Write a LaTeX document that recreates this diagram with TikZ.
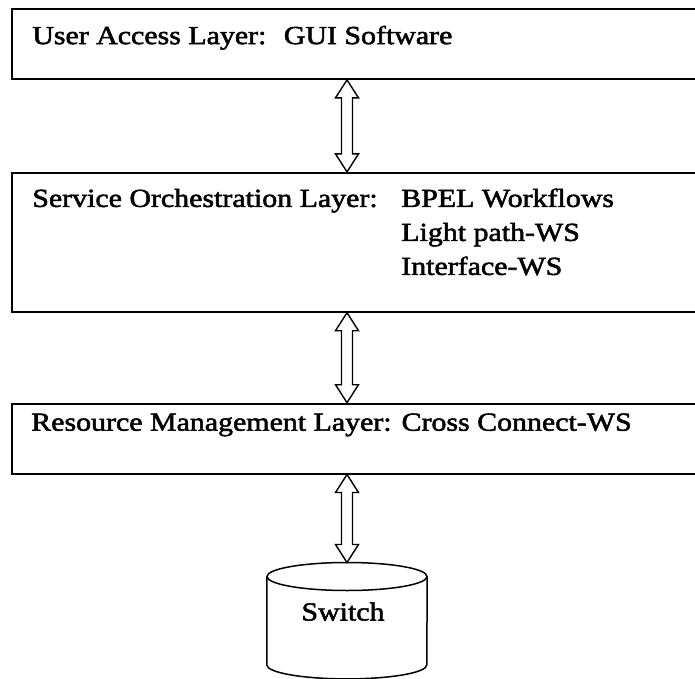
\documentclass[tikz,border=0pt]{standalone}
\usepackage{fontspec}
\setmainfont{Liberation Serif}[FakeStretch=1.15,FakeBold=2]
\usetikzlibrary{positioning,calc}

\tikzset{
  layer/.style={draw, line width=1.8pt, minimum width=688pt, inner sep=0pt},
  lbl/.style={inner sep=0pt, font=\fontsize{26}{34}\selectfont},
  store/.style={inner sep=0pt, minimum width=160pt, minimum height=116pt},
  storeline/.style={line width=1.5pt},
  duplex/.style={draw, line width=1.4pt, fill=white}
}

% hollow two-way arrow, #1 upper end, #2 lower end
\newcommand{\updown}[2]{%
  \draw[duplex] let \p1=(#1), \p2=(#2) in
    (\p1) -- ++(11.5pt,-18pt) -- ++(-6pt,0pt) -- (\x1+5.5pt,\y2+18pt)
    -- ++(6pt,0pt) -- (\p2) -- ++(-11.5pt,18pt) -- ++(6pt,0pt)
    -- (\x1-5.5pt,\y1-18pt) -- ++(-6pt,0pt) -- cycle;}

\begin{document}
\begin{tikzpicture}[node distance=90pt]
  \useasboundingbox (0,0) rectangle (695pt,678pt);
  \clip (0,0) rectangle (695pt,678pt);

  %Define nodes
  \node[layer, minimum height=70pt]                  (ual) at (356pt,634pt) {};
  \node[layer, minimum height=139pt, below=92pt of ual] (sol) {};
  \node[layer, minimum height=70pt, below=of sol]     (rml) {};
  \node[store, below=88pt of rml, xshift=-9pt]        (sw) {};

  % Switch drum
  \draw[storeline] ([yshift=-14pt]sw.north) ellipse [x radius=80pt, y radius=14pt];
  \draw[storeline] ([yshift=-14pt]sw.north west) -- ([yshift=14pt]sw.south west)
    arc [start angle=180, end angle=360, x radius=80pt, y radius=14pt]
    -- ([yshift=-14pt]sw.north east);

  % Texts
  \node[lbl, anchor=base west] (ualtext) at ([shift={(21pt,-36pt)}]ual.north west)
    {User Access Layer:~ GUI Software};
  \node[lbl, anchor=base west] (soltext) at ([shift={(21pt,-35pt)}]sol.north west)
    {Service Orchestration Layer:};
  \node[lbl, anchor=base west] (solws) at ([shift={(390pt,-35pt)}]sol.north west)
    {\begin{tabular}[t]{@{}l@{}}BPEL Workflows\\Light path-WS\\Interface-WS\end{tabular}};
  \node[lbl, anchor=base west] (rmltext) at ([shift={(20pt,-28pt)}]rml.north west)
    {Resource Management Layer: Cross Connect-WS};
  \node[lbl, anchor=base] (swtext) at ([shift={(-4pt,-58pt)}]sw.north) {Switch};

  % Connect the nodes
  \updown{ual.south -| sw.north}{sol.north -| sw.north}
  \updown{sol.south -| sw.north}{rml.north -| sw.north}
  \updown{rml.south -| sw.north}{sw.north}

\end{tikzpicture}
\end{document}
